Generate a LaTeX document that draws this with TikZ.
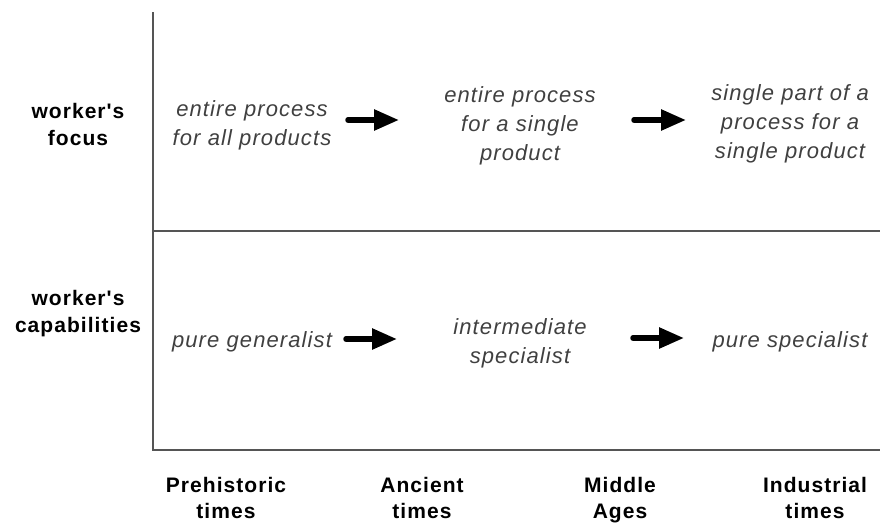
\documentclass[tikz,border=0pt]{standalone}
\usepackage{fontspec}
\setmainfont{Liberation Sans}[Ligatures=TeXOff]
\newfontfamily\labelfont{Liberation Sans}[Ligatures=TeXOff,LetterSpace=5]
\usetikzlibrary{arrows.meta}

\definecolor{axisgray}{HTML}{555555}
\definecolor{cellgray}{HTML}{404040}

\tikzset{
	axisline/.style={line width=2.4pt, draw=axisgray},
	rowlabel/.style={font=\labelfont\fontsize{21}{27}\selectfont\bfseries, align=center, text=black},
	timelabel/.style={font=\labelfont\fontsize{21}{26}\selectfont\bfseries, align=center, text=black, anchor=north, inner sep=0pt},
	cell/.style={font=\labelfont\fontsize{22}{29}\selectfont\itshape, align=center, text=cellgray},
	stagearrow/.style={line width=5.5pt, line cap=round, -{Triangle[length=25pt,width=20pt]}}
}

\begin{document}
\begin{tikzpicture}[x=1pt,y=-1pt]
	
	\useasboundingbox (0,0) rectangle (880,522);
	
	\coordinate (top) at (153,12);
	\coordinate (origin) at (153,450);
	\coordinate (right) at (880,450);
	\coordinate (midl) at (153,231);
	\coordinate (midr) at (880,231);
	\draw[axisline] (top) -- (origin) -- (right);
	\draw[axisline] (midl) -- (midr);
	
	\node[rowlabel] (focus) at (78,124) {worker's\\focus};
	\node[rowlabel] (capab) at (78,314) {worker's\\capabilities};
	
	\node[cell] (f1) at (252,125) {entire process\\for all products};
	\node[cell] (f2) at (520,126) {entire process\\for a single\\product};
	\node[cell] (f3) at (790,124) {single part of a\\process for a\\single product};
	\node[cell] (c1) at (252,342) {pure generalist};
	\node[cell] (c2) at (520,343) {intermediate\\specialist};
	\node[cell] (c3) at (790,342) {pure specialist};
	
	\coordinate (f1a) at (348,120);
	\coordinate (f2a) at (399,120);
	\coordinate (f2b) at (634,120);
	\coordinate (f3b) at (686,120);
	\coordinate (c1a) at (346,339);
	\coordinate (c2a) at (397,339);
	\coordinate (c2b) at (633,338);
	\coordinate (c3b) at (684,338);
	\draw[stagearrow] (f1a) -- (f2a);
	\draw[stagearrow] (f2b) -- (f3b);
	\draw[stagearrow] (c1a) -- (c2a);
	\draw[stagearrow] (c2b) -- (c3b);
	
	\node[timelabel] (prehist) at (226,477) {Prehistoric\\times};
	\node[timelabel] (ancient) at (422,477) {Ancient\\times};
	\node[timelabel] (middle) at (620,477) {Middle\\Ages};
	\node[timelabel] (indust) at (815,477) {Industrial\\times};
	
\end{tikzpicture}
\end{document}
